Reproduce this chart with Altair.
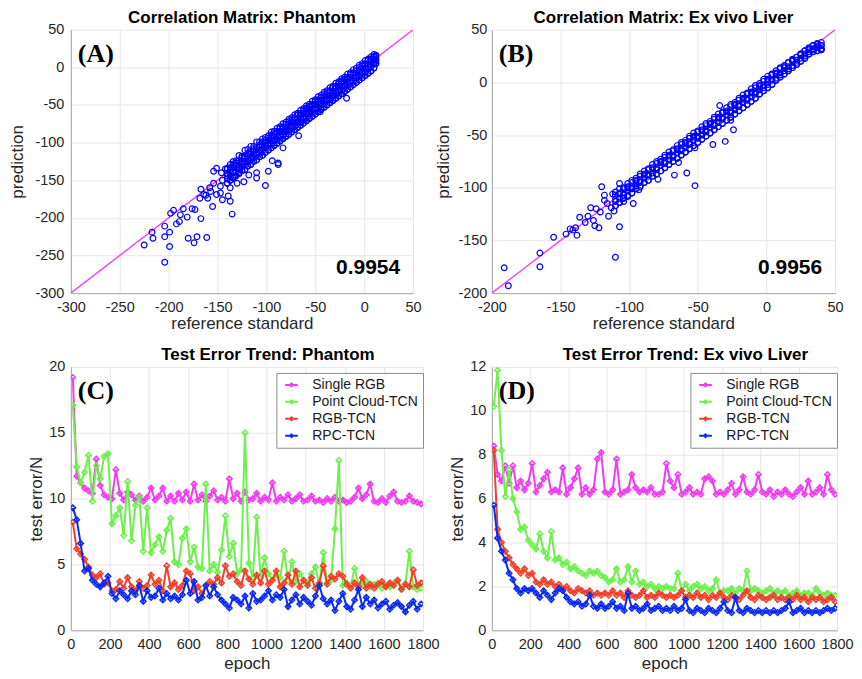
import altair as alt
import pandas as pd

FONT = "Liberation Sans"

# ---------------- Panel A (Phantom correlation) ----------------
a_band_ref = [-140,-137,-134,-131,-128,-125,-122,-119,-116,-113,-110,-107,-104,-101,-98,-95,-92,-89,-86,-83,
              -80,-77,-74,-71,-68,-65,-62,-59,-56,-53,-50,-47,-44,-41,-38,-35,-32,-29,-26,-23,
              -20,-17,-14,-11,-8,-5,-2,1,4,7,10,12]
a_band_hi = [-134,-129,-125,-124,-117,-118,-110,-109,-105,-105,-99,-99,-95,-93,-91,-86,-85,-81,-79,-75,
             -73,-69,-67,-63,-61,-57,-55,-51,-49,-45,-43,-39,-37,-33,-31,-27,-25,-21,-19,-15,
             -13,-9,-7,-3,-1,3,5,9,11,14,17,16]
a_band_q1 = [-135,-133,-129,-127,-124,-120,-118,-114,-112,-108,-106,-103,-99,-97,-94,-90,-88,-85,-81,-79,
             -76,-72,-70,-67,-63,-61,-58,-54,-52,-49,-45,-43,-40,-36,-34,-31,-27,-25,-22,-18,
             -16,-13,-9,-7,-4,0,2,5,9,11,14,15]
a_band_mid = [-141,-136,-133,-130,-127,-125,-121,-118,-115,-112,-109,-106,-104,-100,-97,-94,-92,-88,-85,-82,
              -80,-76,-73,-70,-68,-64,-61,-58,-56,-52,-49,-46,-44,-40,-37,-34,-32,-28,-25,-22,
              -20,-16,-13,-10,-8,-4,-1,2,4,8,11,13]
a_band_q2 = [-144,-140,-138,-134,-132,-128,-126,-122,-120,-116,-114,-110,-108,-104,-102,-98,-96,-92,-90,-86,
             -84,-80,-78,-74,-72,-68,-66,-62,-60,-56,-54,-50,-48,-44,-42,-38,-36,-32,-30,-26,
             -24,-20,-18,-14,-12,-8,-6,-2,0,4,6,10]
a_band_lo = [-148,-145,-140,-139,-134,-132,-129,-126,-122,-120,-116,-114,-111,-107,-104,-102,-98,-96,-92,-90,
             -86,-84,-80,-78,-74,-72,-68,-66,-62,-60,-56,-54,-50,-48,-44,-42,-38,-36,-32,-30,
             -26,-24,-20,-18,-14,-12,-8,-6,-2,1,4,8]
a_band_lo2 = [-154,-150,-147,-144,-141,-137,-136,-131,-129,-125,-123,-119,-117,-113,-110,-107,-104,-101,-98,-95,
              -92,-89,-86,-83,-80,-77,-74,-71,-68,-65,-62,-59,-56,-53,-50,-47,-44,-41,-38,-35,
              -32,-29,-26,-23,-20,-17,-14,-11,-8,-5,-1,5]
a_out_ref = [-225,-217,-216,-204,-204,-204,-199,-199,-198,-195,-192,-189,-188,-185,-181,-180,-176,-174,-173,-171,
             -167,-167,-168,-164,-161,-160,-157,-155,-154,-151,-147,-145,-147,-139,-137,-137,-135,-130,-123,-118,
             -110,-110,-101,-98,-94,-88,-88,-83,-67,-45,-18,-154,-151,-146,-142,-158,-162,-145,-133,-128]
a_out_pred = [-236,-219,-227,-259,-211,-225,-219,-238,-194,-190,-208,-205,-196,-188,-199,-227,-188,-233,-189,-225,
              -201,-162,-174,-169,-226,-174,-165,-185,-154,-169,-167,-176,-158,-171,-178,-160,-195,-154,-152,-143,
              -147,-140,-157,-138,-124,-129,-127,-107,-91,-59,-41,-138,-134,-140,-135,-160,-170,-150,-145,-140]

# ---------------- Panel B (Ex vivo liver correlation) ----------------
b_band_ref = [-110,-107,-104,-101,-98,-95,-92,-89,-86,-83,-80,-77,-74,-71,-68,-65,-62,-59,-56,-53,
              -50,-47,-44,-41,-38,-35,-32,-29,-26,-23,-20,-17,-14,-11,-8,-5,-2,1,4,7,
              10,13,16,19,22,25,28,31,34,37,40]
b_band_hi = [-104,-101,-100,-96,-93,-91,-87,-84,-82,-78,-75,-73,-69,-66,-64,-60,-57,-55,-51,-48,
             -46,-42,-39,-37,-33,-30,-28,-24,-21,-19,-15,-12,-10,-6,-3,-1,3,6,8,11,
             14,16,19,22,24,27,30,32,35,36,35]
b_band_q1 = [-107,-105,-101,-99,-95,-93,-89,-87,-83,-81,-77,-75,-71,-69,-65,-63,-59,-57,-53,-51,
             -47,-45,-41,-39,-35,-33,-29,-27,-23,-21,-17,-15,-11,-9,-5,-3,1,3,7,9,
             13,15,19,21,24,27,30,33,35,37,38]
b_band_mid = [-111,-106,-105,-100,-99,-94,-93,-88,-87,-82,-81,-76,-75,-70,-69,-64,-63,-58,-57,-52,
              -51,-46,-45,-40,-39,-34,-33,-28,-27,-22,-21,-16,-15,-10,-9,-4,-3,2,3,8,
              9,14,15,20,21,26,27,31,32,33,32]
b_band_q2 = [-113,-110,-107,-103,-101,-98,-95,-91,-89,-86,-83,-79,-77,-74,-71,-67,-65,-62,-59,-55,
             -53,-50,-47,-43,-41,-38,-35,-31,-29,-26,-23,-19,-17,-14,-11,-7,-5,-2,2,4,
             7,11,13,16,19,23,25,29,31,34,35]
b_band_lo = [-117,-114,-110,-108,-105,-101,-99,-95,-93,-89,-87,-84,-81,-78,-75,-72,-69,-66,-63,-60,
             -57,-54,-51,-48,-45,-42,-39,-36,-33,-30,-27,-24,-21,-18,-15,-11,-8,-5,-2,2,
             5,8,11,14,17,20,23,27,29,30,31]
b_out_ref = [-191,-188,-165,-165,-155,-146,-138,-143,-136,-132,-130,-128,-126,-125,-122,-121,-120,-118,-116,-115,
             -113,-111,-110,-107,-107,-104,-101,-97,-93,-79,-67,-64,-58,-52,-52,-39,-30,-24,-26,-34,
             -141,-139,-124,-118,-112]
b_out_pred = [-176,-193,-162,-175,-147,-144,-145,-139,-128,-133,-127,-119,-131,-136,-138,-123,-99,-107,-115,-127,
              -119,-122,-166,-137,-96,-113,-107,-115,-102,-92,-88,-76,-86,-98,-62,-59,-56,-45,-36,-22,
              -140,-138,-120,-112,-106]

# ---------------- Test error trends ----------------
epochs = list(range(10, 1800, 20))
models = ["Single RGB", "Point Cloud-TCN", "RGB-TCN", "RPC-TCN"]
colors = ["#f03cf0", "#6cf04a", "#f0402a", "#0a2af0"]

c_single = [19.2,11.7,11.2,10.8,10.6,10.4,13.0,11.0,10.3,10.1,
            10.0,12.2,10.4,9.9,10.5,10.3,9.9,10.2,9.8,10.1,
            10.8,9.9,10.2,10.8,9.8,10.2,9.8,10.4,9.9,10.5,
            9.8,11.1,9.9,10.3,9.8,10.2,10.6,9.9,10.1,9.8,
            11.5,10.0,10.4,9.8,10.5,9.9,10.0,10.4,9.8,10.1,
            9.9,11.2,9.8,10.1,9.9,10.3,9.8,10.0,10.3,9.8,
            9.9,10.2,9.8,9.9,9.7,10.0,9.8,10.1,9.8,9.9,
            9.7,9.8,10.1,10.8,10.0,10.3,11.1,9.8,9.7,10.0,
            9.7,10.2,10.5,9.8,9.7,9.8,10.2,9.8,9.7,9.6]
c_pointcloud = [17.1,12.4,11.2,12.0,13.3,9.8,12.5,11.5,13.2,13.4,
                8.1,8.7,9.3,7.2,11.3,6.8,9.5,10.1,6.0,9.3,
                5.9,6.5,7.1,6.0,7.6,8.5,5.2,5.0,7.0,7.7,
                5.2,6.3,4.8,4.7,11.1,4.5,5.0,4.4,6.1,8.7,
                5.6,6.6,4.3,4.6,15.0,5.1,4.0,8.6,4.0,5.5,
                4.3,3.8,4.2,4.0,6.0,3.8,5.2,3.7,4.3,3.8,
                3.6,4.3,4.8,3.5,5.9,3.6,3.8,7.7,12.9,3.4,
                3.6,3.3,4.7,3.5,3.4,3.7,3.3,3.5,3.6,3.2,
                3.4,3.3,3.6,3.8,3.2,3.5,6.0,3.3,3.1,3.2]
c_rgbtcn = [8.2,6.2,5.8,5.4,4.8,4.2,4.0,4.3,3.5,3.6,
            3.0,3.1,3.7,3.2,4.0,3.3,3.0,3.7,3.2,3.4,
            4.2,3.5,3.8,3.0,4.9,3.3,3.6,3.1,3.4,4.5,
            4.3,3.0,3.3,2.8,3.4,3.7,3.5,4.0,3.6,4.9,
            4.1,4.3,3.7,3.4,4.5,3.9,3.5,4.2,3.6,4.5,
            3.5,3.8,4.5,3.3,3.6,4.2,3.5,4.5,3.3,3.8,
            3.4,4.0,3.2,3.6,4.9,3.5,4.1,3.9,4.3,4.1,
            3.5,3.2,3.6,3.3,4.0,3.2,3.5,3.2,3.5,3.7,
            3.3,3.6,3.4,3.8,3.1,3.5,3.3,4.6,3.4,3.6]
c_rpctcn = [9.3,8.4,6.6,4.5,4.7,3.8,3.5,3.3,3.6,4.1,
            2.8,2.4,3.0,2.7,2.4,3.0,2.7,3.4,2.2,3.0,
            2.5,2.6,3.2,2.3,2.8,2.4,2.6,2.3,2.7,3.8,
            2.8,3.7,2.3,2.5,3.4,2.6,3.3,2.7,2.3,2.0,
            1.7,2.5,2.3,2.0,2.6,1.7,2.8,2.2,2.3,2.6,
            3.0,2.3,2.7,2.5,3.1,1.8,2.3,2.7,2.0,2.5,
            2.2,1.9,2.6,3.4,2.4,2.0,2.3,1.5,2.2,2.8,
            1.8,1.6,2.3,3.1,1.8,2.5,2.0,2.3,1.7,2.0,
            2.2,1.6,1.9,2.1,1.8,1.4,1.9,2.2,1.6,2.0]

d_single = [8.4,7.1,6.8,7.5,6.7,7.5,6.5,6.8,6.4,6.7,
            7.6,6.3,6.6,6.9,7.2,6.3,6.4,6.3,7.4,6.2,
            6.5,6.9,7.4,6.2,6.5,6.2,6.4,7.8,8.1,6.3,
            6.2,6.4,7.8,6.2,6.3,6.4,7.1,6.5,6.3,6.4,
            6.3,6.5,6.2,6.2,6.3,7.6,6.8,6.5,7.1,6.2,
            6.3,6.5,6.2,6.3,6.2,6.9,7.0,6.8,6.2,6.3,
            6.2,6.4,6.7,6.2,6.4,7.0,6.3,6.2,6.4,7.1,
            6.3,6.2,6.4,6.1,6.3,6.2,6.4,6.2,6.1,6.3,
            6.5,6.2,6.8,6.2,6.3,6.5,6.2,7.1,6.4,6.2]
d_pointcloud = [10.2,11.85,8.2,6.1,7.3,6.0,5.4,4.6,4.7,4.1,
                3.9,3.7,4.4,3.6,3.3,4.5,3.2,3.3,3.0,3.1,
                2.8,2.9,2.7,2.6,2.5,2.7,2.6,2.7,2.5,2.4,
                2.2,2.3,2.8,2.2,2.3,2.9,2.2,2.7,2.1,2.2,
                2.0,2.1,1.9,2.0,1.9,2.0,1.9,1.9,2.6,1.8,
                2.1,1.8,2.0,2.1,1.9,2.0,1.8,1.9,2.3,1.7,
                1.8,1.8,1.9,1.7,1.9,1.8,2.7,1.8,1.9,1.8,
                1.7,1.8,1.9,1.7,1.8,1.7,1.8,1.6,1.7,1.8,
                1.6,1.7,1.7,1.6,1.9,1.7,1.6,1.7,1.6,1.6]
d_rgbtcn = [8.2,4.6,4.0,3.6,3.3,3.0,2.8,2.6,2.8,2.5,
            2.6,2.2,2.1,2.3,2.1,2.2,2.0,2.1,1.9,2.0,
            1.8,1.7,1.9,1.8,1.7,1.8,1.6,1.7,1.6,1.7,
            1.6,1.8,1.6,1.7,1.5,1.8,1.6,1.5,1.6,1.8,
            1.5,1.6,1.5,1.7,1.6,1.5,1.6,1.5,1.6,1.8,
            1.5,1.6,1.5,1.7,1.5,1.6,1.4,1.6,1.5,1.7,
            1.5,1.4,1.6,1.5,1.4,1.6,1.8,1.5,1.4,1.6,
            1.5,1.4,1.5,1.6,1.4,1.5,1.4,1.5,1.4,1.6,
            1.4,1.5,1.3,1.5,1.4,1.5,1.3,1.4,1.5,1.3]
d_rpctcn = [5.7,4.2,3.6,3.2,2.6,2.3,1.9,1.7,1.9,1.8,
            1.9,1.7,1.5,1.8,1.6,1.4,1.7,1.9,1.8,1.5,
            1.3,1.2,1.3,1.1,1.2,1.6,1.1,1.0,1.2,1.0,
            1.1,1.3,1.0,1.1,0.9,1.7,1.0,1.1,0.9,1.0,
            1.2,0.9,1.0,1.1,0.9,1.0,0.9,1.1,0.9,1.0,
            1.4,0.9,0.8,1.0,0.9,0.8,1.0,0.9,0.8,1.0,
            1.3,0.9,0.8,1.5,0.9,0.8,1.0,0.9,0.8,0.9,
            0.8,0.9,0.8,0.9,0.8,0.9,1.0,1.3,0.8,0.9,
            1.0,0.8,0.9,0.8,0.9,0.8,0.9,1.0,0.9,1.0]

one = pd.DataFrame({"k": [0]})
LEGEND_PATH = "M-1,0L3,0M0.55,0L1,-0.45L1.45,0L1,0.45Z"
LABEL_EXPR = "toString(datum.value)"


def title(text, dx=0):
    return alt.TitleParams(text=text, font=FONT, fontSize=17, fontWeight="bold", color="black",
                           anchor="middle", frame="group", offset=-5, dx=dx)


def label_layer(letter):
    return alt.Chart(one).mark_text(text=letter, font="Liberation Serif", fontWeight="bold",
                                    fontSize=26, align="left", baseline="middle",
                                    color="black").encode(x=alt.value(7), y=alt.value(24))


def scatter_panel(refs, preds, dom, ticks, ttl, letter, rtxt, w, h, ylp, ytp):
    pts = pd.DataFrame({"ref": sum(refs, []), "pred": sum(preds, [])})
    fit = pd.DataFrame({"ref": dom, "pred": dom})
    X = alt.X("ref:Q", scale=alt.Scale(domain=dom, nice=False, zero=False),
              axis=alt.Axis(values=ticks, title="reference standard", labelExpr=LABEL_EXPR,
                            labelPadding=7, titlePadding=2))
    Y = alt.Y("pred:Q", scale=alt.Scale(domain=dom, nice=False, zero=False),
              axis=alt.Axis(values=ticks, title="prediction", labelExpr=LABEL_EXPR,
                            labelPadding=ylp, titlePadding=ytp))
    line = alt.Chart(fit).mark_line(color="#ff30ff", strokeWidth=1.3, clip=True).encode(x=X, y=Y)
    dots = alt.Chart(pts).mark_point(shape="circle", filled=False, color="#0000ff", size=33,
                                     strokeWidth=1.2, opacity=1, clip=True).encode(x=X, y=Y)
    rt = alt.Chart(one).mark_text(text=rtxt, font=FONT, fontWeight="bold", fontSize=21,
                                  align="right", baseline="middle", color="black").encode(
        x=alt.value(w - 13), y=alt.value(239))
    return alt.layer(line, dots, label_layer(letter), rt).properties(width=w, height=h, title=title(ttl))


def trend_panel(series, ymax, yticks, ttl, letter, w, h):
    X = alt.X("epoch:Q", scale=alt.Scale(domain=[0, 1800], nice=False),
              axis=alt.Axis(values=list(range(0, 1801, 200)), title="epoch", labelExpr=LABEL_EXPR,
                            labelPadding=7, titlePadding=5))
    Y = alt.Y("err:Q", scale=alt.Scale(domain=[0, ymax], nice=False),
              axis=alt.Axis(values=yticks, title="test error/N", labelExpr=LABEL_EXPR,
                            labelPadding=6, titlePadding=3))
    C = alt.Color("model:N", scale=alt.Scale(domain=models, range=colors),
                  legend=alt.Legend(title=None, orient="none", legendX=w - 147, legendY=6,
                                    fillColor="white", strokeColor="#8c8c8c", padding=5,
                                    labelFont=FONT, labelFontSize=14, labelColor="#1a1a1a",
                                    symbolType=LEGEND_PATH, symbolSize=40, symbolStrokeWidth=2,
                                    symbolFillColor="white", rowPadding=3, labelOffset=17))
    layers = []
    for name, vals in zip(models, series):
        df = pd.DataFrame({"epoch": epochs, "err": vals, "model": name})
        layers.append(alt.Chart(df).mark_line(strokeWidth=2, clip=True).encode(x=X, y=Y, color=C))
        layers.append(alt.Chart(df).mark_point(shape="diamond", filled=False, size=30, strokeWidth=1.5,
                                               opacity=1, clip=True).encode(x=X, y=Y, color=C))
    layers.append(label_layer(letter))
    return alt.layer(*layers).properties(width=w, height=h, title=title(ttl, dx=21))


A = scatter_panel([a_band_ref] * 7 + [a_out_ref],
                  [a_band_hi, a_band_q1, a_band_mid, a_band_q2, a_band_lo, a_band_lo2, a_band_lo2, a_out_pred],
                  [-300, 50], list(range(-300, 51, 50)), "Correlation Matrix: Phantom", "(A)", "0.9954",
                  343, 264, 7, 8)
B = scatter_panel([b_band_ref] * 6 + [b_out_ref],
                  [b_band_hi, b_band_q1, b_band_mid, b_band_q2, b_band_lo, b_band_lo, b_out_pred],
                  [-200, 50], list(range(-200, 51, 50)), "Correlation Matrix: Ex vivo Liver", "(B)", "0.9956",
                  344, 264, 5, 5)
Cp = trend_panel([c_single, c_pointcloud, c_rgbtcn, c_rpctcn], 20, [0, 5, 10, 15, 20],
                 "Test Error Trend: Phantom", "(C)", 353, 264)
D = trend_panel([d_single, d_pointcloud, d_rgbtcn, d_rpctcn], 12, [0, 2, 4, 6, 8, 10, 12],
                "Test Error Trend: Ex vivo Liver", "(D)", 346, 264)

chart = alt.concat(A, B, Cp, D, columns=2, spacing={"row": 74, "column": 69}, bounds="flush").resolve_scale(
    color="independent"
).properties(
    padding={"left": 0, "top": 0, "right": 0, "bottom": 0}
).configure_view(stroke=None).configure_axis(
    labelFont=FONT, labelFontSize=14.5, labelColor="#262626", labelFlush=False, labelOverlap=False,
    titleFont=FONT, titleFontSize=17, titleFontWeight="normal", titleColor="#262626",
    gridColor="#e6e6e6", gridWidth=1, domainColor="#a6a6a6", domainWidth=1, ticks=False, tickSize=0
)

chart.save("out.html", embed_options={"renderer": "svg", "actions": False})
